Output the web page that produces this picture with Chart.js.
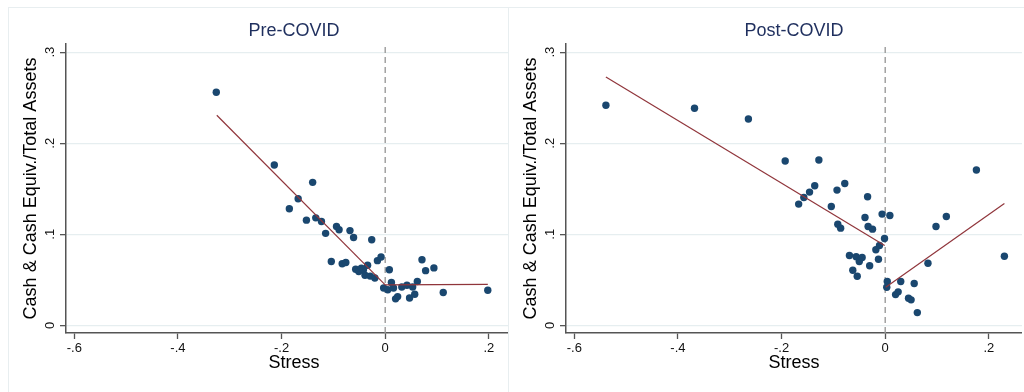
<!DOCTYPE html>
<html>
<head>
<meta charset="utf-8">
<script src="https://cdn.jsdelivr.net/npm/chart.js@4.4.1/dist/chart.umd.min.js"></script>
<style>
    html, body { margin: 0; padding: 0; background: #fff; }
    body { width: 1024px; height: 392px; position: relative; overflow: hidden; font-family: 'Liberation Sans', Arial, sans-serif; }
    .panel { position: absolute; top: 7px; width: 516px; height: 385px; background: #fff; }
    .panel canvas { position: absolute; left: 0; top: 0; }
    .frame { position: absolute; left: 0; top: 0; width: 600px; height: 400px; border-left: 1px solid #e8eef0; border-top: 1px solid #e8eef0; pointer-events: none; }
    .ptitle { position: absolute; left: 58px; width: 456px; top: 12px; line-height: 22px; text-align: center; font-size: 18px; color: #1f2f5e; }
</style>
</head>
<body>
<div class="panel" id="panel-pre" style="left: 8px; z-index: 1;">
    <canvas id="preChart" width="514" height="385"></canvas>
    <div class="ptitle">Pre-COVID</div>
    <div class="frame"></div>
</div>
<div class="panel" id="panel-post" style="left: 508px; z-index: 2;">
    <canvas id="postChart" width="514" height="385"></canvas>
    <div class="ptitle">Post-COVID</div>
    <div class="frame"></div>
</div>
<script>
// --- data ---
const xTicks = [-0.6, -0.4, -0.2, 0, 0.2];
const yTicks = [0, 0.1, 0.2, 0.3];

// Pre-COVID scatter
const preStress = [-0.326, -0.214, -0.140, -0.168, -0.185, -0.152, -0.134, -0.123, -0.115, -0.094,
    -0.089, -0.068, -0.061, -0.026, -0.104, -0.083, -0.076, -0.057, -0.051, -0.046,
    -0.042, -0.034, -0.039, -0.029, -0.020, -0.015, -0.008, -0.003, 0.005, 0.008,
    0.012, 0.016, 0.020, 0.024, 0.032, 0.042, 0.047, 0.053, 0.057, 0.062,
    0.071, 0.078, 0.094, 0.112, 0.198];
const preCash = [0.256, 0.176, 0.157, 0.139, 0.128, 0.1155, 0.118, 0.114, 0.101, 0.1085,
    0.105, 0.104, 0.0965, 0.094, 0.070, 0.0675, 0.069, 0.0616, 0.059, 0.0627,
    0.061, 0.066, 0.055, 0.054, 0.052, 0.071, 0.075, 0.041, 0.039, 0.061,
    0.047, 0.041, 0.029, 0.0315, 0.042, 0.044, 0.030, 0.042, 0.034, 0.048,
    0.072, 0.060, 0.063, 0.036, 0.0385];
// Pre-COVID fitted lines (below / above zero stress)
const preFitNegX = [-0.325, 0];
const preFitNegY = [0.2307, 0.0444];
const preFitPosX = [0, 0.198];
const preFitPosY = [0.0444, 0.045];

// Post-COVID scatter
const postStress = [-0.539, -0.368, -0.264, -0.193, -0.128, -0.136, -0.146, -0.157, -0.167, -0.093,
    -0.078, -0.104, -0.0915, -0.086, -0.034, -0.039, -0.033, -0.0245, -0.006, 0.009,
    -0.0013, -0.011, -0.018, -0.013, -0.030, -0.069, -0.056, -0.050, -0.0445, -0.0625,
    -0.054, 0.004, 0.003, 0.030, 0.020, 0.025, 0.045, 0.050, 0.056, 0.062,
    0.0825, 0.098, 0.118, 0.176, 0.230];
const postCash = [0.2417, 0.2384, 0.2266, 0.1804, 0.1815, 0.1533, 0.1463, 0.1404, 0.1331, 0.1485,
    0.1558, 0.1305, 0.111, 0.1067, 0.1412, 0.1184, 0.1085, 0.1056, 0.1221, 0.1206,
    0.0953, 0.0876, 0.0829, 0.0726, 0.0653, 0.0766, 0.0752, 0.070, 0.0744, 0.0605,
    0.0539, 0.048, 0.0418, 0.048, 0.0337, 0.0367, 0.0297, 0.0279, 0.0458, 0.0139,
    0.0682, 0.1085, 0.1195, 0.1705, 0.0759];
const postFitNegX = [-0.539, -0.001];
const postFitNegY = [0.2728, 0.0876];
const postFitPosX = [0.001, 0.230];
const postFitPosY = [0.0418, 0.1338];

// axis ranges
const xMin = -0.616, xMax = 0.264;
const yMin = -0.0085, yMax = 0.309;

const FONT = "'Liberation Sans', Arial, sans-serif";
const NAVY = '#1a476f';
const MAROON = '#90353b';

// Stata style labels: .2, -.4, 0
function stataNum(v) {
    if (Math.abs(v) < 1e-9) return '0';
    const s = String(Math.round(v * 10) / 10);
    return s.replace(/^(-?)0\./, '$1.');
}

const zip = (xs, ys) => xs.map((x, i) => ({ x: x, y: ys[i] }));

function makePanel(id, xs, ys, negX, negY, posX, posY) {
    const ctx = document.getElementById(id).getContext('2d');
    const fitStyle = {
        showLine: true, pointRadius: 0, pointHoverRadius: 0, borderColor: MAROON, borderWidth: 1.2, order: 0
    };
    new Chart(ctx, {
        type: 'scatter',
        data: {
            datasets: [
                { data: zip(negX, negY), ...fitStyle },
                { data: zip(posX, posY), ...fitStyle },
                {
                    data: zip(xs, ys), backgroundColor: NAVY, borderWidth: 0,
                    pointRadius: 3.7, pointHoverRadius: 3.7, order: 1
                },
                {
                    data: [{ x: 0, y: yMin }, { x: 0, y: yMax }],
                    showLine: true, pointRadius: 0, pointHoverRadius: 0, borderColor: '#9b9b9b',
                    borderWidth: 1.4, borderDash: [6, 4], order: 2
                }
            ]
        },
        options: {
            responsive: false,
            animation: false,
            layout: { autoPadding: false, padding: { top: 37, left: 0, right: 0, bottom: 0 } },
            plugins: { legend: { display: false }, tooltip: { enabled: false } },
            scales: {
                x: {
                    type: 'linear', min: xMin, max: xMax,
                    afterBuildTicks: s => { s.ticks = xTicks.map(v => ({ value: v })); },
                    afterFit: s => { s.height = 59; s.paddingLeft = 0; s.paddingRight = 0; },
                    grid: { display: true, drawOnChartArea: false, drawTicks: true, tickLength: 6, tickColor: '#555', tickWidth: 1.3 },
                    border: { display: true, color: '#555', width: 1.5 },
                    ticks: { padding: 2, color: '#111', font: { family: FONT, size: 13 }, callback: v => stataNum(v) },
                    title: { display: true, text: 'Stress', color: '#000', font: { family: FONT, size: 18 }, padding: { top: 0, bottom: 17.7 } }
                },
                y: {
                    type: 'linear', min: yMin, max: yMax,
                    afterBuildTicks: s => { s.ticks = yTicks.map(v => ({ value: v })); },
                    afterFit: s => { s.width = 58; s.paddingTop = 0; s.paddingBottom = 0; },
                    grid: { display: true, color: '#e6eef0', lineWidth: 1.3, drawTicks: true, tickLength: 6, tickColor: '#555', tickWidth: 1.3 },
                    border: { display: true, color: '#555', width: 1.5 },
                    ticks: {
                        minRotation: 90, maxRotation: 90, crossAlign: 'center', padding: 4,
                        color: '#111', font: { family: FONT, size: 13 }, callback: v => stataNum(v)
                    },
                    title: { display: true, text: 'Cash & Cash Equiv./Total Assets', color: '#000', font: { family: FONT, size: 18 }, padding: { top: 12.7, bottom: 0 } }
                }
            }
        }
    });
}

document.addEventListener('DOMContentLoaded', () => {
    makePanel('preChart', preStress, preCash, preFitNegX, preFitNegY, preFitPosX, preFitPosY);
    makePanel('postChart', postStress, postCash, postFitNegX, postFitNegY, postFitPosX, postFitPosY);
});
</script>
</body>
</html>
